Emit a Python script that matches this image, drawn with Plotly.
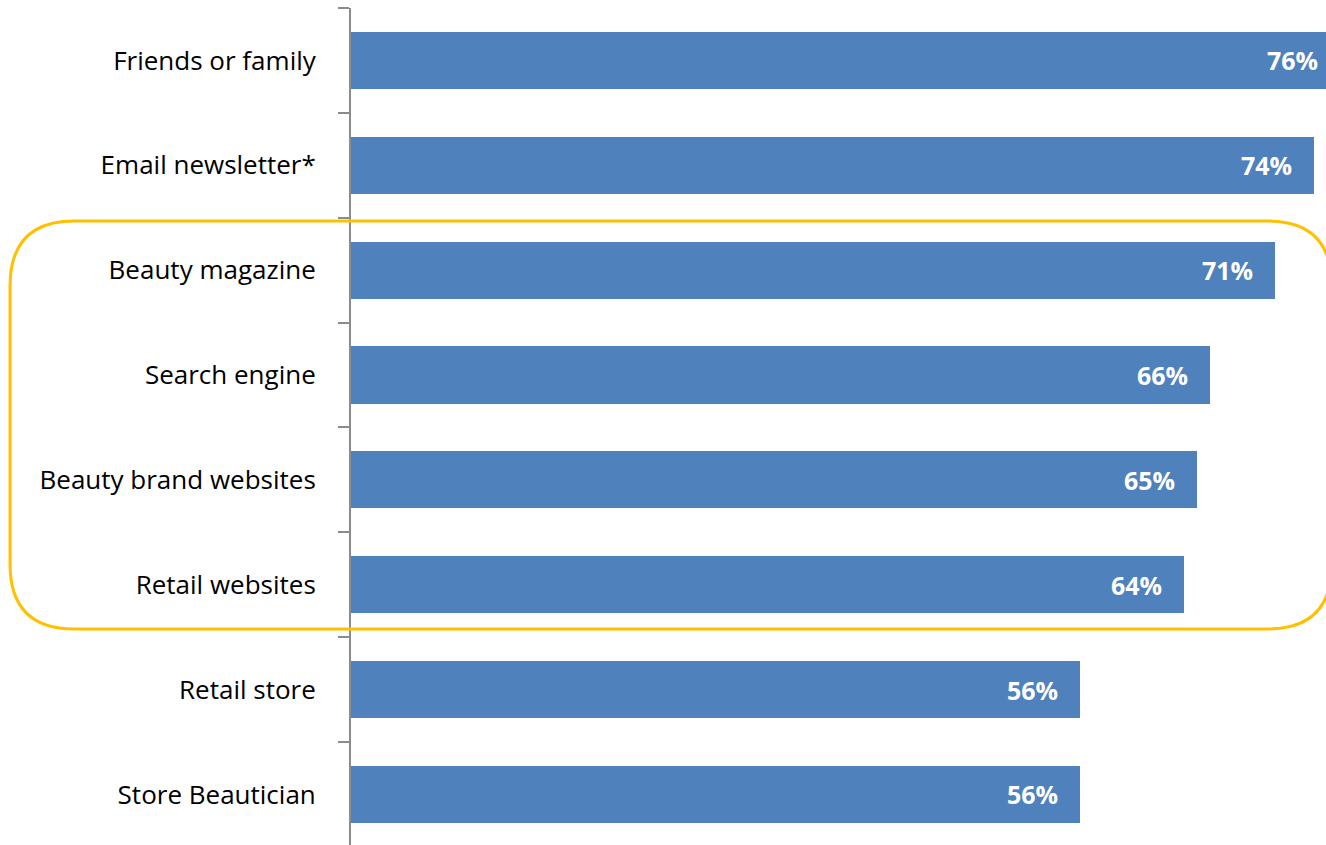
import plotly.graph_objects as go

# Share of respondents citing each source
sources = [
    "Friends or family",
    "Email newsletter*",
    "Beauty magazine",
    "Search engine",
    "Beauty brand websites",
    "Retail websites",
    "Retail store",
    "Store Beautician",
]
shares = [76, 74, 71, 66, 65, 64, 56, 56]
share_labels = [f"{v}%" for v in shares]

BAR_COLOR = "#4F81BD"
AXIS_COLOR = "#8C8C8C"
HIGHLIGHT = "#FFC000"
X_MAX = 74.9

fig = go.Figure(
    go.Bar(
        x=shares,
        y=sources,
        orientation="h",
        width=0.545,
        marker=dict(color=BAR_COLOR, line=dict(width=0)),
        hoverinfo="skip",
    )
)

# Value labels just inside the end of each bar; positioned in x-domain
# units so the label of a bar running past the axis end is still shown
for src, v, lab in zip(sources, shares, share_labels):
    fig.add_annotation(
        x=v / X_MAX, y=src, xref="x domain", yref="y",
        text=lab, showarrow=False,
        xanchor="right", xshift=-20,
        font=dict(family="Open Sans", size=25, color="white", weight="bold"),
    )

# Rounded outline around the online / print group (Beauty magazine .. Retail websites)
x0, x1 = -0.3497, 1.006     # paper units
y0, y1 = 1.531, 5.422       # category units
rx, ry = 0.066, 0.62
path = (
    f"M {x0 + rx},{y0} L {x1 - rx},{y0} "
    f"Q {x1},{y0} {x1},{y0 + ry} L {x1},{y1 - ry} "
    f"Q {x1},{y1} {x1 - rx},{y1} L {x0 + rx},{y1} "
    f"Q {x0},{y1} {x0},{y1 - ry} L {x0},{y0 + ry} "
    f"Q {x0},{y0} {x0 + rx},{y0} Z"
)
fig.add_shape(
    type="path", path=path, xref="paper", yref="y",
    line=dict(color=HIGHLIGHT, width=3), fillcolor="rgba(0,0,0,0)", layer="above",
)

fig.update_layout(
    width=1326,
    height=845,
    margin=dict(l=351, r=0, t=8, b=0),
    paper_bgcolor="white",
    plot_bgcolor="white",
    showlegend=False,
    bargap=0,
    xaxis=dict(
        range=[0, X_MAX],
        visible=False,
        showgrid=False,
        zeroline=False,
    ),
    yaxis=dict(
        type="category",
        range=[7.482, -0.5],
        showline=True,
        linecolor=AXIS_COLOR,
        linewidth=2,
        ticks="outside",
        tickson="boundaries",
        ticklen=11,
        tickwidth=2,
        tickcolor=AXIS_COLOR,
        ticklabelstandoff=28,
        tickfont=dict(family="Open Sans", size=26, color="#000000"),
        showgrid=False,
        zeroline=False,
    ),
)

fig.write_html("out.html")
